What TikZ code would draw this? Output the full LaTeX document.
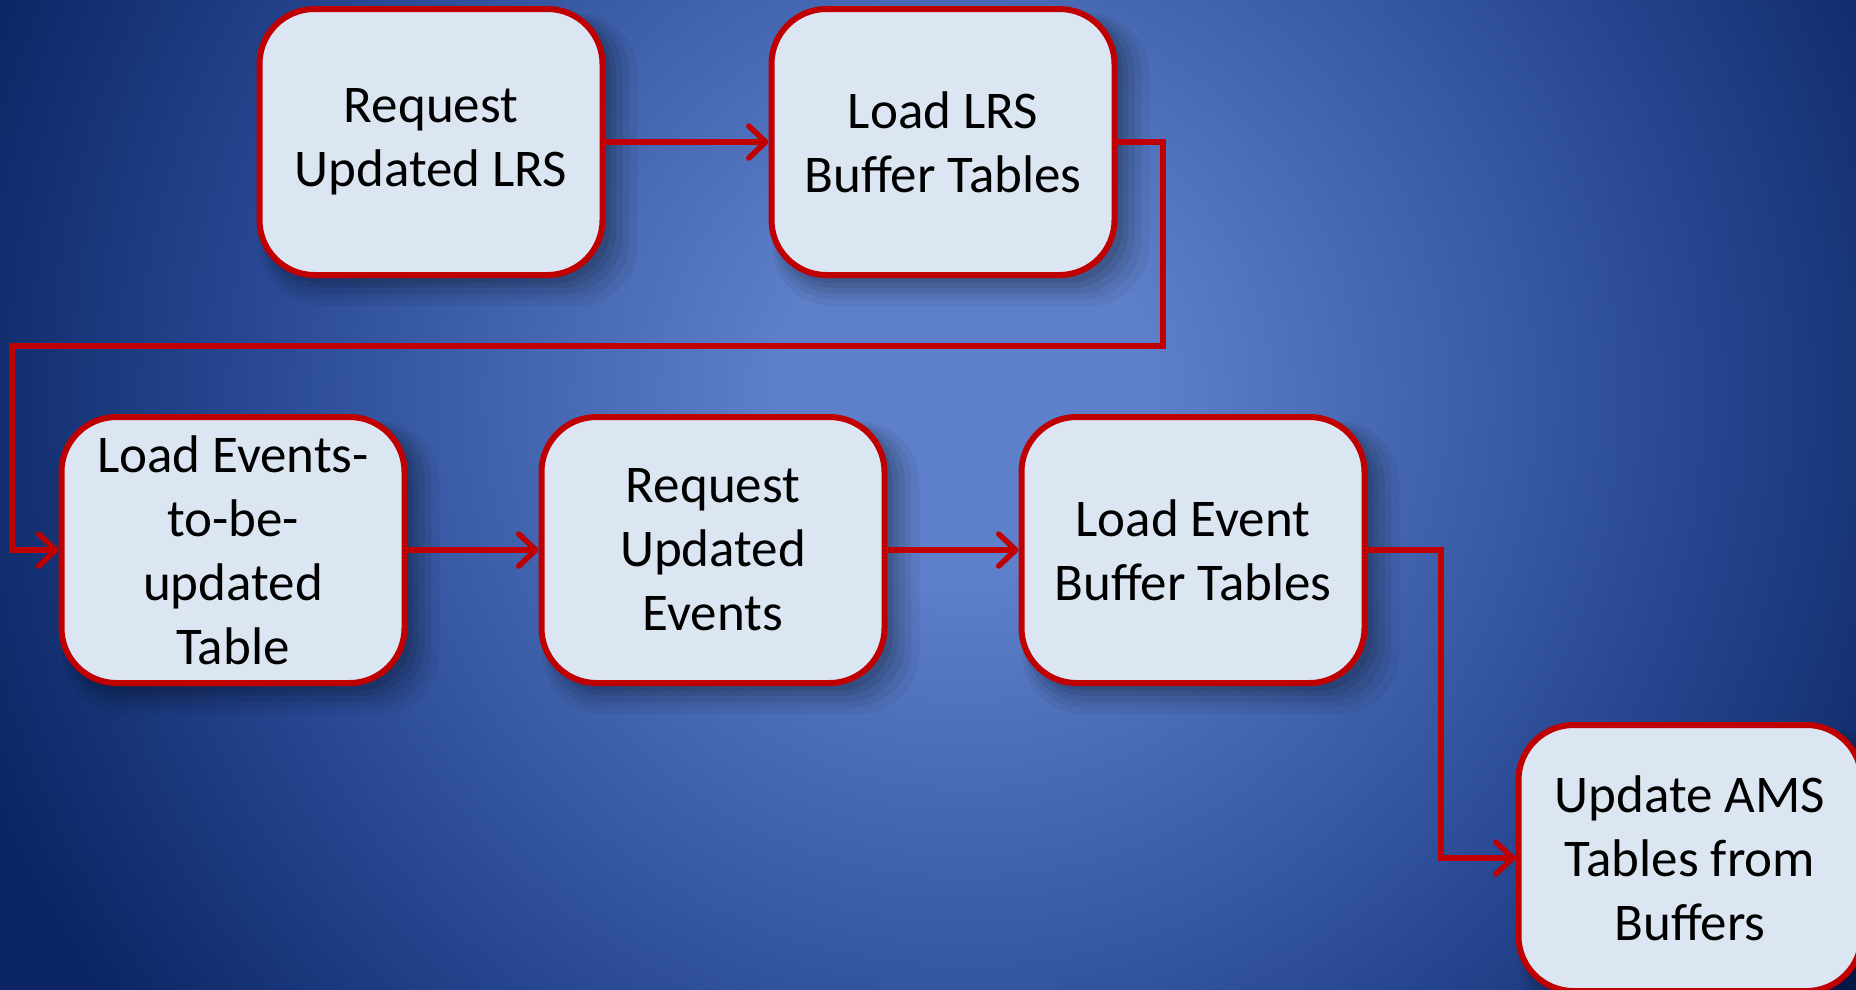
\documentclass[tikz,border=0pt]{standalone}
\usepackage{fontspec}
\setmainfont{Carlito}
\usetikzlibrary{arrows.meta,shadows}
\definecolor{bgc}{HTML}{5E80CA}
\definecolor{bgm}{HTML}{4466B0}
\definecolor{bgd}{HTML}{284893}
\definecolor{bge}{HTML}{0A2562}
\definecolor{boxfill}{HTML}{DCE6F2}
\definecolor{boxred}{HTML}{C00000}
\pgfdeclareradialshading{bgshade}{\pgfpoint{0bp}{0bp}}{color(0bp)=(bgc); color(4bp)=(bgc); color(9.5bp)=(bgm); color(15.5bp)=(bgd); color(23bp)=(bge); color(50bp)=(bge)}
\tikzset{
  stepbox/.style={rectangle, rounded corners=55pt, draw=boxred, line width=6pt,
    fill=boxfill, minimum width=343pt, minimum height=266pt, align=center,
    text=black, font=\fontsize{53}{64}\selectfont,
    general shadow={shadow xshift=16pt,shadow yshift=-16pt,shadow scale=1.10,fill=black,opacity=.05},
    general shadow={shadow xshift=14pt,shadow yshift=-14pt,shadow scale=1.07,fill=black,opacity=.06},
    general shadow={shadow xshift=12pt,shadow yshift=-12pt,shadow scale=1.045,fill=black,opacity=.07},
    general shadow={shadow xshift=10pt,shadow yshift=-10pt,shadow scale=1.02,fill=black,opacity=.08},
    general shadow={shadow xshift=8pt,shadow yshift=-8pt,fill=black,opacity=.09}},
  flow/.style={draw=boxred, line width=5.5pt, line join=miter,
    -{Straight Barb[length=17pt,width=32pt,round]}}
}
\begin{document}
\begin{tikzpicture}[x=1pt,y=-1pt]
\clip (0,0) rectangle (1856,989);
\shade[shading=bgshade] (965,395) circle (1150);
\node[stepbox] (b1) at (431,142) {Request\\Updated LRS};
\node[stepbox] (b2) at (943,142) {Load LRS\\Buffer Tables};
\node[stepbox] (b3) at (233,550) {Load Events-\\to-be-\\updated\\Table};
\node[stepbox] (b4) at (713,550) {Request\\Updated\\Events};
\node[stepbox] (b5) at (1193,550) {Load Event\\Buffer Tables};
\node[stepbox] (b6) at (1690,858) {Update AMS\\Tables from\\Buffers};
\coordinate (r1) at (1163,346);
\coordinate (l1) at (12,346);
\coordinate (c5) at (1441,550);
\draw[flow] (b1.east) -- (b2.west);
\draw[flow] (b2.east) -| (r1) -- (l1) |- (b3.west);
\draw[flow] (b3.east) -- (b4.west);
\draw[flow] (b4.east) -- (b5.west);
\draw[flow] (b5.east) -- (c5) |- (b6.west);
\end{tikzpicture}
\end{document}
